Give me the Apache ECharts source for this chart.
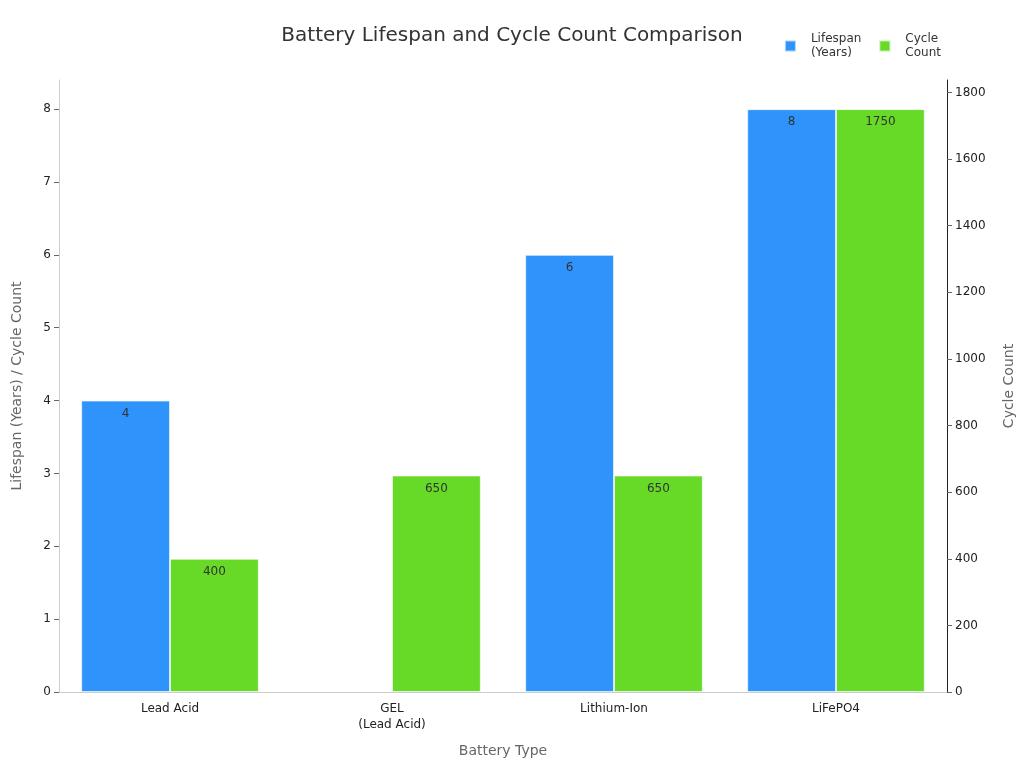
<!DOCTYPE html>
<html>
<head>
<meta charset="utf-8">
<script src="https://cdn.jsdelivr.net/npm/echarts@6/dist/echarts.min.js"></script>
<style>
  html, body { margin: 0; padding: 0; background: #fff; }
  #chart { width: 1024px; height: 768px; }
</style>
</head>
<body>
<div id="chart"></div>
<script>
// data
const categories = ['Lead Acid', 'GEL\n(Lead Acid)', 'Lithium-Ion', 'LiFePO4'];
const lifespanYears = [4, null, 6, 8];
const cycleCount = [400, 650, 650, 1750];
const leftTicks = { min: 0, max: 8.4, interval: 1 };
const rightTicks = { min: 0, max: 1837.5, interval: 200 };

const chart = echarts.init(document.getElementById('chart'));
const font = 'DejaVu Sans';

const barLabel = {
  show: true,
  position: 'insideTop',
  color: '#333',
  fontSize: 12,
  fontFamily: font,
  offset: [0, 2]
};

chart.setOption({
  animation: false,
  textStyle: { fontFamily: font },
  title: {
    text: 'Battery Lifespan and Cycle Count Comparison',
    left: 'center',
    top: 21,
    textStyle: { fontSize: 20, fontWeight: 'normal', color: '#333', fontFamily: font }
  },
  legend: {
    right: 78,
    top: 27,
    icon: 'rect',
    itemWidth: 11,
    itemHeight: 11,
    itemGap: 17,
    textStyle: { fontSize: 12, color: '#333', fontFamily: font, lineHeight: 14, padding: [0, 0, 0, 10] },
    data: ['Lifespan\n(Years)', 'Cycle\nCount']
  },
  grid: { left: 59, right: 77, top: 80, bottom: 76, containLabel: false },
  xAxis: {
    type: 'category',
    data: categories,
    name: 'Battery Type',
    nameLocation: 'middle',
    nameGap: 52,
    nameTextStyle: { fontSize: 14, color: '#666' },
    axisLine: { lineStyle: { color: '#ccc' } },
    axisTick: { alignWithLabel: true, lineStyle: { color: '#999' } },
    axisLabel: { color: '#222', fontSize: 12, margin: 9, lineHeight: 16 }
  },
  yAxis: [
    {
      type: 'value',
      min: leftTicks.min,
      max: leftTicks.max,
      interval: leftTicks.interval,
      name: 'Lifespan (Years) / Cycle Count',
      nameLocation: 'middle',
      nameGap: 35,
      nameTextStyle: { fontSize: 14, color: '#666' },
      axisLine: { show: true, lineStyle: { color: '#ccc' } },
      axisTick: { show: true, length: 5, lineStyle: { color: '#666' } },
      axisLabel: {
        color: '#222', fontSize: 12, margin: 8,
        showMaxLabel: false
      },
      splitLine: { show: false }
    },
    {
      type: 'value',
      min: rightTicks.min,
      max: rightTicks.max,
      interval: rightTicks.interval,
      name: 'Cycle Count',
      nameLocation: 'middle',
      nameGap: 55,
      nameTextStyle: { fontSize: 14, color: '#666' },
      axisLine: { show: true, lineStyle: { color: '#222' } },
      axisTick: { show: true, length: 5, lineStyle: { color: '#666' } },
      axisLabel: {
        color: '#222', fontSize: 12, margin: 8,
        showMaxLabel: false,
        formatter: v => String(v)
      },
      splitLine: { show: false }
    }
  ],
  series: [
    {
      name: 'Lifespan\n(Years)',
      type: 'bar',
      yAxisIndex: 0,
      data: lifespanYears,
      barWidth: '40%',
      barGap: '0%',
      itemStyle: { color: '#2E93FA', borderColor: 'rgba(255,255,255,0.6)', borderWidth: 1 },
      label: barLabel
    },
    {
      name: 'Cycle\nCount',
      type: 'bar',
      yAxisIndex: 1,
      data: cycleCount,
      barWidth: '40%',
      barGap: '0%',
      itemStyle: { color: '#66DA26', borderColor: 'rgba(255,255,255,0.6)', borderWidth: 1 },
      label: barLabel
    }
  ]
});
</script>
</body>
</html>
